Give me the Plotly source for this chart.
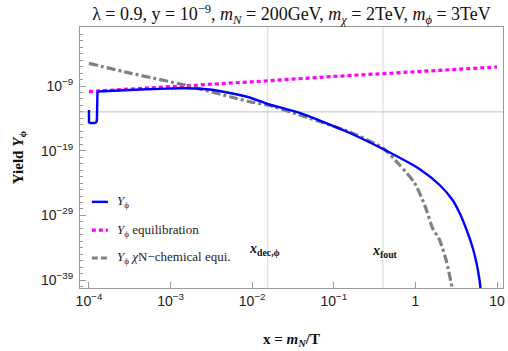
import plotly.graph_objects as go

# ---------------- data ----------------
# start-up hook of Y_phi
hook_x = [1.0e-4, 1.0e-4, 1.03e-4, 1.18e-4, 1.23e-4, 1.25e-4, 1.27e-4, 1.29e-4]
hook_y = [1.95e-13, 2.6e-15, 1.9e-15, 1.9e-15, 2.6e-15, 5.6e-15, 8.3e-11, 1.4e-10]
# main part of Y_phi
blue_x = [1.29e-4, 4.2e-4, 1.3e-3, 2.0e-3, 3.0e-3, 5.3e-3, 9.3e-3, 1.55e-2, 3.83e-2,
          0.157, 0.40, 1.12, 1.98, 2.85, 3.48, 4.24, 5.0, 5.6, 6.1, 6.3]
blue_y = [1.4e-10, 2.9e-10, 4.4e-10, 4.2e-10, 2.9e-10, 8.3e-11, 1.66e-11, 1.66e-12, 6.8e-14,
          5.5e-17, 1.8e-19, 1.5e-22, 5.0e-25, 2.4e-27, 2.3e-29, 5.5e-32, 1.3e-34, 4.4e-37,
          1.05e-39, 3.2e-41]

eq_x = [1e-4, 1e-3, 1e-2, 1e-1, 1, 10]
eq_y = [1.4e-10, 7.6e-10, 4.5e-9, 3.0e-8, 1.7e-7, 8.7e-7]

chem_x = [1.0e-4, 3.18e-4, 1.5e-3, 5.3e-3, 9.3e-3, 1.55e-2, 3.83e-2, 0.157, 0.40,
          0.64, 0.98, 1.30, 1.62, 1.98, 2.41, 2.85]
chem_y = [3.2e-6, 1.0e-7, 1.4e-9, 2.2e-11, 3.7e-12, 1.15e-12, 3.3e-14, 7.8e-17, 2.6e-19,
          6.2e-22, 1.0e-24, 4.0e-28, 1.1e-31, 1.6e-33, 6.3e-37, 3.2e-41]

x_dec = 0.0155
x_fout = 0.40
y_ref = 1e-13

x_tickvals = [1e-4, 1e-3, 1e-2, 1e-1, 1, 10]
x_ticktext = ["10<sup>−4</sup>", "10<sup>−3</sup>", "10<sup>−2</sup>", "10<sup>−1</sup>", "1", "10"]
y_tickvals = [1e-39, 1e-29, 1e-19, 1e-9]
y_ticktext = ["10<sup>−39</sup>", "10<sup>−29</sup>", "10<sup>−19</sup>", "10<sup>−9</sup>"]
y_minor = [10.0 ** e for e in range(-40, 1) if e not in (-39, -29, -19, -9)]

legend_labels = ["<i>Y</i><sub>ϕ</sub>",
                 "<i>Y</i><sub>ϕ</sub> equilibration",
                 "<i>Y</i><sub>ϕ</sub> <i>χ</i>N−chemical equi."]

# ---------------- figure ----------------
BLUE = "#0000FF"
MAG = "#FF00FF"
GRAY = "#808080"
serif = "Liberation Serif"
sans = "Liberation Sans"

W, H = 508, 351

fig = go.Figure()
fig.add_trace(go.Scatter(x=eq_x, y=eq_y, mode="lines",
                         line=dict(color=MAG, width=3.2, dash="4px,3px"), showlegend=False))
fig.add_trace(go.Scatter(x=chem_x, y=chem_y, mode="lines",
                         line=dict(color=GRAY, width=3.2, dash="9px,3px,3px,3px", shape="spline",
                                   smoothing=0.5), showlegend=False))
fig.add_trace(go.Scatter(x=hook_x, y=hook_y, mode="lines",
                         line=dict(color=BLUE, width=2.4), showlegend=False))
fig.add_trace(go.Scatter(x=blue_x, y=blue_y, mode="lines",
                         line=dict(color=BLUE, width=2.4, shape="spline", smoothing=0.6),
                         showlegend=False))

shapes = [
    dict(type="line", xref="x", yref="paper", x0=x_dec, x1=x_dec, y0=0, y1=1,
         line=dict(color="#d6d6d6", width=1), layer="below"),
    dict(type="line", xref="x", yref="paper", x0=x_fout, x1=x_fout, y0=0, y1=1,
         line=dict(color="#d6d6d6", width=1), layer="below"),
    dict(type="line", xref="paper", yref="y", x0=0, x1=1, y0=y_ref, y1=y_ref,
         line=dict(color="#c0c0c0", width=1), layer="below"),
]

# manual legend (paper coordinates)
leg_rows = [0.330, 0.222, 0.115]
leg_styles = [dict(color=BLUE, width=2.4),
              dict(color=MAG, width=3.2, dash="4px,3px"),
              dict(color=GRAY, width=3.2, dash="6px,3px")]
annotations = []
for row, st, lab in zip(leg_rows, leg_styles, legend_labels):
    shapes.append(dict(type="line", xref="paper", yref="paper", x0=0.028, x1=0.066,
                       y0=row, y1=row, line=st))
    annotations.append(dict(xref="paper", yref="paper", x=0.083, y=row, text=lab,
                            showarrow=False, xanchor="left", yanchor="middle",
                            font=dict(family=serif, size=13, color="#222")))

annotations += [
    dict(xref="x", yref="paper", x=-1.81, y=0.108, xshift=-3,
         text="<b><i>x</i><sub>dec,ϕ</sub></b>", showarrow=False,
         font=dict(family=serif, size=14, color="#111")),
    dict(xref="x", yref="paper", x=-0.40, y=0.100, xshift=2,
         text="<b><i>x</i><sub>fout</sub></b>", showarrow=False,
         font=dict(family=serif, size=14, color="#111")),
    dict(xref="paper", yref="paper", x=0.5, y=-0.20, yanchor="middle",
         text="<b>x = <i>m</i><sub><i>N</i></sub>/T</b>", showarrow=False,
         font=dict(family=serif, size=15, color="#111")),
    dict(xref="paper", yref="paper", x=-0.171, y=0.5, textangle=-90,
         text="<b>Yield <i>Y</i><sub>ϕ</sub></b>", showarrow=False,
         font=dict(family=serif, size=15, color="#111")),
]

fig.update_layout(
    width=W, height=H,
    margin=dict(l=80, r=5, t=27, b=63, autoexpand=False),
    paper_bgcolor="white", plot_bgcolor="white",
    title=dict(text="λ = 0.9, y = 10<sup>−9</sup>, <i>m</i><sub><i>N</i></sub> = 200GeV, "
                    "<i>m</i><sub><i>χ</i></sub> = 2TeV, <i>m</i><sub><i>ϕ</i></sub> = 3TeV",
               x=0.5, xref="paper", xanchor="center", y=1 - 14 / H, yanchor="middle",
               font=dict(family=serif, size=18, color="#111")),
    shapes=shapes,
    annotations=annotations,
    showlegend=False,
)

fig.update_xaxes(type="log", range=[-4.11, 1.073], showgrid=False, zeroline=False,
                 automargin=False,
                 showline=True, mirror=True, linecolor="#9a9a9a", linewidth=1,
                 ticks="inside", ticklen=6, tickcolor="#9a9a9a",
                 tickmode="array", tickvals=x_tickvals, ticktext=x_ticktext,
                 tickfont=dict(family=sans, size=14, color="#222"))
fig.update_yaxes(type="log", range=[-40.22, 0.12], showgrid=False, zeroline=False,
                 automargin=False,
                 showline=True, mirror=True, linecolor="#9a9a9a", linewidth=1,
                 ticks="inside", ticklen=6, tickcolor="#9a9a9a",
                 tickmode="array", tickvals=y_tickvals, ticktext=y_ticktext,
                 ticklabelstandoff=3,
                 minor=dict(tickmode="array", tickvals=y_minor, ticks="inside",
                            ticklen=3, tickcolor="#9a9a9a", showgrid=False),
                 tickfont=dict(family=sans, size=14, color="#222"))

# remove the browser's default 8px page margin so the figure fills the window exactly
fig.write_html("out.html", config={"displayModeBar": False},
               post_script="document.body.style.margin='0px';")
